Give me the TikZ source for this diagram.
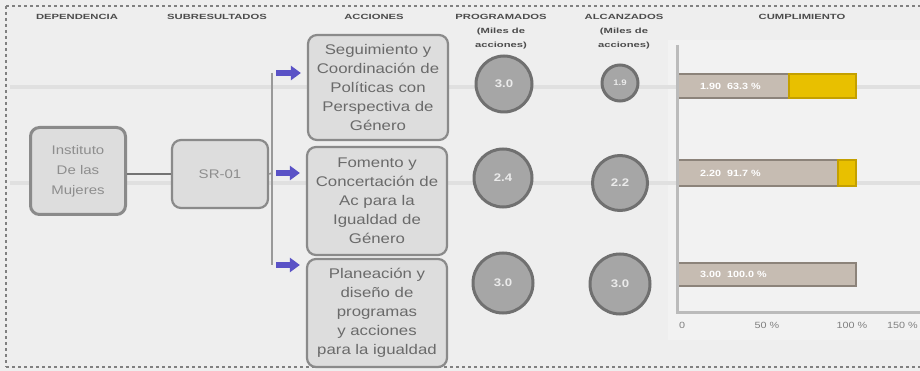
\documentclass[tikz,border=0pt]{standalone}
\usepackage{fontspec}
\setmainfont{Liberation Sans}
\newfontfamily\widefont[FakeStretch=1.2]{Liberation Sans}
\newfontfamily\hdrfont[FakeStretch=1.5]{Liberation Sans}
\usetikzlibrary{arrows.meta}
\definecolor{bgc}{HTML}{EEEEEE}
\definecolor{chartbg}{HTML}{F2F2F2}
\definecolor{bandc}{HTML}{E0E0E0}
\definecolor{boxfill}{HTML}{DDDDDD}
\definecolor{boxline}{HTML}{8A8A8A}
\definecolor{txtc}{HTML}{6A6A6A}
\definecolor{lighttxt}{HTML}{8E8E8E}
\definecolor{circfill}{HTML}{A6A6A6}
\definecolor{circline}{HTML}{707070}
\definecolor{barline}{HTML}{8C837A}
\definecolor{barfill}{HTML}{C6BCB2}
\definecolor{goldc}{HTML}{E8C000}
\definecolor{goldline}{HTML}{C4A000}
\definecolor{arrowblue}{HTML}{5A52C6}
\definecolor{axisc}{HTML}{BBBBBB}
\begin{document}
\begin{tikzpicture}[x=1pt,y=-1pt,
  hdr/.style={font=\hdrfont\bfseries\fontsize{7.5}{14}\selectfont, text=black!70, align=center, inner sep=0pt, anchor=north},
  rbox/.style={draw=boxline, line width=2.2pt, fill=boxfill, rounded corners=9pt, align=center, inner sep=2pt},
  actbox/.style={rbox, font=\widefont\fontsize{14}{19}\selectfont, text=txtc, minimum width=140pt},
  circ/.style={circle, draw=circline, line width=3pt, fill=circfill, inner sep=0pt, text=white!92!black, font=\widefont\bfseries\fontsize{11}{12}\selectfont},
  bluearrow/.style={draw=arrowblue, line width=6.5pt, -{Triangle[length=10pt,width=14pt]}, shorten <=4pt, shorten >=6pt},
  conn/.style={draw=black!55, line width=1.6pt},
  barbase/.style={fill=barfill, draw=barline, line width=2.5pt},
  bargold/.style={fill=goldc, draw=goldline, line width=2.5pt},
  barlab/.style={font=\widefont\bfseries\fontsize{9}{10}\selectfont, text=white, inner sep=0pt},
  ticklab/.style={font=\widefont\fontsize{9}{10}\selectfont, text=black!50, inner sep=0pt}
]
\useasboundingbox (0,0) rectangle (920,371);
\clip (0,0) rectangle (920,371);
\fill[bgc] (0,0) rectangle (920,371);
\fill[chartbg] (668,40) rectangle (920,340);
% faint bands
\draw[bandc, line width=4pt] (10,87) -- (920,87);
\draw[bandc, line width=4pt] (10,183) -- (920,183);
% dashed frame
\draw[black!50, line width=1.6pt, dash pattern=on 3pt off 3pt] (6,6) -- (930,6);
\draw[black!50, line width=1.6pt, dash pattern=on 3pt off 3pt] (6,6) -- (6,367);
\draw[black!50, line width=1.6pt, dash pattern=on 3pt off 3pt] (6,367) -- (930,367);

% headers
\node[hdr] (h1) at (77,14) {DEPENDENCIA};
\node[hdr] (h2) at (217,14) {SUBRESULTADOS};
\node[hdr] (h3) at (374,14) {ACCIONES};
\node[hdr] (h4) at (501,14) {PROGRAMADOS\\(Miles de\\acciones)};
\node[hdr] (h5) at (624,14) {ALCANZADOS\\(Miles de\\acciones)};
\node[hdr] (h6) at (802,14) {CUMPLIMIENTO};

% left nodes
\node[rbox, minimum width=95pt, minimum height=87pt, font=\widefont\fontsize{12.5}{20}\selectfont, text=lighttxt, line width=3pt] (inst) at (78,171) {Instituto\\De las\\Mujeres};
\node[rbox, minimum width=96pt, minimum height=68pt, font=\widefont\fontsize{12.5}{15}\selectfont, text=lighttxt] (sr) at (220,174) {SR-01};
\draw[conn] (inst.east |- sr.west) -- (sr.west);

% action boxes
\node[actbox, minimum height=105pt] (a1) at (378,87.5) {Seguimiento y\\Coordinación de\\Políticas con\\Perspectiva de\\Género};
\node[actbox, minimum height=108pt] (a2) at (377,201) {Fomento y\\Concertación de\\Ac para la\\Igualdad de\\Género};
\node[actbox, minimum height=108pt] (a3) at (377,313) {Planeación y\\diseño de\\programas\\y acciones\\para la igualdad};

% branching connector
\coordinate (b1) at (272,73);
\coordinate (b2) at (272,173);
\coordinate (b3) at (272,265);
\draw[conn, draw=black!40, line width=2pt] (b1) -- (b3);
\draw[conn, draw=black!40] (sr.east) -- (b2);
\draw[bluearrow] (b1) -- (a1.west |- b1);
\draw[bluearrow] (b2) -- (a2.west |- b2);
\draw[bluearrow] (b3) -- (a3.west |- b3);

% circles programados
\node[circ, minimum size=56pt] (p1) at (504,84) {3.0};
\node[circ, minimum size=58pt] (p2) at (503,178) {2.4};
\node[circ, minimum size=60pt] (p3) at (503,283) {3.0};
% circles alcanzados
\node[circ, minimum size=36pt, font=\widefont\bfseries\fontsize{8}{9}\selectfont] (c1) at (620,83) {1.9};
\node[circ, minimum size=55pt] (c2) at (620,183) {2.2};
\node[circ, minimum size=60pt] (c3) at (620,284) {3.0};

% chart
\draw[barbase] (678,74) rectangle (789,98);
\draw[bargold] (789,74) rectangle (856,98);
\node[barlab, anchor=west] (l1) at (700,86) {1.90 \ 63.3 \%};
\draw[barbase] (678,160) rectangle (838,186);
\draw[bargold] (838,160) rectangle (856,186);
\node[barlab, anchor=west] (l2) at (700,173) {2.20 \ 91.7 \%};
\draw[barbase] (678,263) rectangle (856,286);
\node[barlab, anchor=west] (l3) at (700,274.5) {3.00 \ 100.0 \%};
\draw[axisc, line width=3pt] (677,45) -- (677,312) -- (920,312);
\node[ticklab] (t0) at (682,325) {0};
\node[ticklab] (t1) at (767,325) {50 \%};
\node[ticklab] (t2) at (852,325) {100 \%};
\node[ticklab, anchor=east] (t3) at (918,325) {150 \%};
\end{tikzpicture}
\end{document}
